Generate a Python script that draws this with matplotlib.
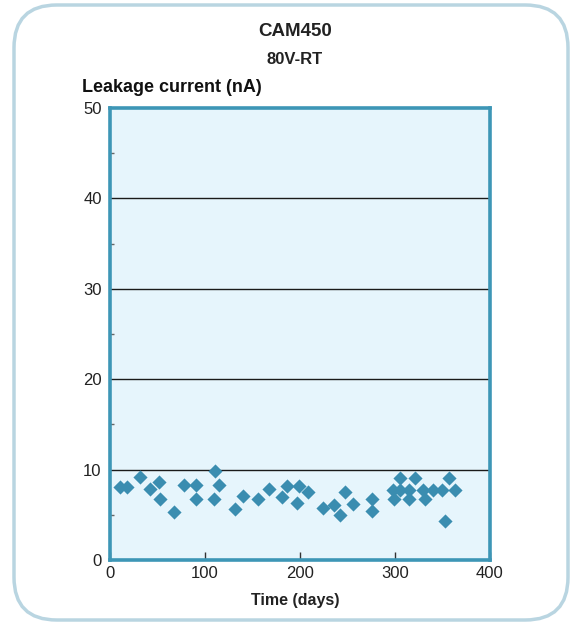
import matplotlib
matplotlib.use("Agg")
import matplotlib.pyplot as plt
from matplotlib.patches import FancyBboxPatch
from matplotlib.ticker import MultipleLocator

# Leakage current readings
days = [11, 18, 32, 42, 52, 53, 67, 78, 90, 90, 109, 111, 115, 132, 140,
        156, 167, 181, 186, 197, 199, 208, 224, 236, 242, 247, 256, 276,
        276, 298, 299, 305, 305, 315, 315, 321, 329, 332, 340, 349, 353,
        357, 363]
current = [8.1, 8.1, 9.2, 7.8, 8.6, 6.7, 5.3, 8.3, 8.3, 6.7, 6.7, 9.9, 8.3,
           5.6, 7.1, 6.7, 7.8, 7.0, 8.2, 6.3, 8.2, 7.5, 5.8, 6.1, 5.0, 7.5,
           6.2, 6.7, 5.4, 7.7, 6.7, 9.1, 7.7, 7.7, 6.7, 9.1, 7.7, 6.7, 7.7,
           7.7, 4.3, 9.1, 7.7]

title = "CAM450"
subtitle = "80V-RT"
ylabel = "Leakage current (nA)"
xlabel = "Time (days)"

plt.rcParams["font.family"] = ["Liberation Sans", "DejaVu Sans"]

fig = plt.figure(figsize=(5.7, 6.23), dpi=100)

# rounded frame round the whole panel
frame = FancyBboxPatch((14 / 570, 3 / 623), 554 / 570, 615 / 623,
                       boxstyle="round,pad=0,rounding_size=0.075",
                       transform=fig.transFigure, facecolor="none",
                       edgecolor="#b9d5e1", linewidth=2.5, zorder=-1,
                       mutation_aspect=570 / 623)
fig.patches.append(frame)

ax = fig.add_axes([110 / 570, 63 / 623, 380 / 570, 452 / 623])
ax.set_facecolor("#e6f5fc")
ax.set_xlim(0, 400)
ax.set_ylim(0, 50)

for y in [10, 20, 30, 40]:
    ax.axhline(y, color="#1a1a1a", linewidth=1.0, zorder=1)

ax.scatter(days, current, marker="D", s=52, color="#3a8db0",
           linewidths=0, zorder=3)

for s in ax.spines.values():
    s.set_color("#3d96b6")
    s.set_linewidth(2.6)
    s.set_zorder(4)

ax.xaxis.set_major_locator(MultipleLocator(100))
ax.yaxis.set_major_locator(MultipleLocator(10))
ax.yaxis.set_minor_locator(MultipleLocator(5))
ax.tick_params(axis="x", direction="in", length=6, width=1, color="#333333",
               labelsize=12, pad=4, labelcolor="#222222")
ax.tick_params(axis="y", which="major", length=0, labelsize=12, pad=6,
               labelcolor="#222222")
ax.tick_params(axis="y", which="minor", direction="in", length=3, width=1,
               color="#666666")

fig.text(295 / 570, 1 - 32 / 623, title, ha="center", va="center",
         fontsize=13.5, fontweight="bold", color="#222222")
fig.text(295 / 570, 1 - 60 / 623, subtitle, ha="center", va="center",
         fontsize=12, fontweight="bold", color="#222222")
fig.text(82 / 570, 1 - 87 / 623, ylabel, ha="left", va="center",
         fontsize=13, fontweight="bold", color="#111111")
fig.text(295 / 570, 1 - 600 / 623, xlabel, ha="center", va="center",
         fontsize=11.5, fontweight="bold", color="#222222")

fig.savefig("out.png", dpi=100)
